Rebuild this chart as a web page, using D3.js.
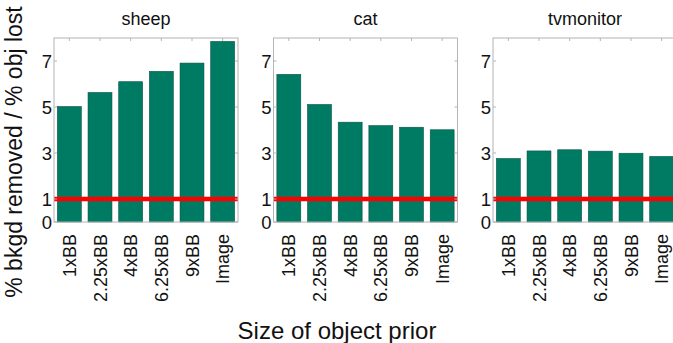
<!DOCTYPE html>
<html><head><meta charset="utf-8">
<script src="https://cdn.jsdelivr.net/npm/d3@7"></script>
<style>body{margin:0;background:#fff;} svg{display:block;font-family:"Liberation Sans",Arial,sans-serif;}</style>
</head><body>
<svg id="c" width="673" height="343"></svg>
<script>
const categories = ["1xBB","2.25xBB","4xBB","6.25xBB","9xBB","Image"];
const panelTitles = ["sheep","cat","tvmonitor"];
const sheepValues = [5.02, 5.63, 6.10, 6.55, 6.91, 7.85];
const catValues = [6.42, 5.11, 4.34, 4.19, 4.12, 4.01];
const tvmonitorValues = [2.76, 3.09, 3.14, 3.08, 2.99, 2.85];
const yTicks = [0, 1, 3, 5, 7];
const yDomain = [0, 8];
const referenceLine = 1;
const yLabel = "% bkgd removed / % obj lost";
const xLabel = "Size of object prior";

(function(){
const series = [sheepValues, catValues, tvmonitorValues];
const svg = d3.select("#c");
const panelLeft = [54, 273.5, 493];
const pw = 184, pTop = 38, pBottom = 222;
const barColor = "#007b63", axisColor = "#b4b4b4";

const y = d3.scaleLinear().domain(yDomain).range([pBottom, pTop]);

series.forEach((vals, i) => {
  const x0 = panelLeft[i];
  const x = d3.scaleBand().domain(categories).range([x0, x0 + pw])
    .paddingInner(0.22).paddingOuter(0.11);
  const g = svg.append("g");
  g.selectAll("rect.bar").data(vals).enter().append("rect")
    .attr("class","bar")
    .attr("x", (d,j) => x(categories[j]))
    .attr("width", x.bandwidth())
    .attr("y", d => y(d))
    .attr("height", d => y(0) - y(d))
    .attr("fill", barColor)
    .attr("stroke", "#0b5446").attr("stroke-width", 0.6);
  g.append("line").attr("x1", x0).attr("x2", x0 + pw)
    .attr("y1", y(referenceLine)).attr("y2", y(referenceLine))
    .attr("stroke", "#ff0000").attr("stroke-width", 4.5);
  g.append("rect").attr("x", x0).attr("y", pTop).attr("width", pw).attr("height", pBottom - pTop)
    .attr("fill","none").attr("stroke", axisColor).attr("stroke-width", 1);
  yTicks.forEach(t => {
    g.append("line").attr("x1", x0).attr("x2", x0 + 3).attr("y1", y(t)).attr("y2", y(t)).attr("stroke", axisColor);
    g.append("line").attr("x1", x0 + pw - 3).attr("x2", x0 + pw).attr("y1", y(t)).attr("y2", y(t)).attr("stroke", axisColor);
  });
  categories.forEach(c => {
    const cx = x(c) + x.bandwidth()/2;
    g.append("line").attr("x1", cx).attr("x2", cx).attr("y1", pTop).attr("y2", pTop + 3).attr("stroke", axisColor);
  });
  g.selectAll("text.yt").data(yTicks).enter().append("text")
    .attr("x", x0 - 2).attr("y", d => y(d)).attr("dy", "0.36em")
    .attr("text-anchor", "end").attr("font-size", 18.5).attr("fill", "#111")
    .text(d => d);
  categories.forEach(c => {
    const cx = x(c) + x.bandwidth()/2;
    g.append("text")
      .attr("transform", `translate(${cx + 6.5},${pBottom + 12}) rotate(-90)`)
      .attr("text-anchor", "end").attr("font-size", 18).attr("fill", "#111")
      .text(c);
  });
  g.append("text").attr("x", x0 + pw/2).attr("y", 25).attr("text-anchor","middle")
    .attr("font-size", 18).attr("fill","#111").text(panelTitles[i]);
});

svg.append("text").attr("transform", "translate(22,152) rotate(-90)")
  .attr("text-anchor","middle").attr("font-size", 23).attr("fill","#111").text(yLabel);
svg.append("text").attr("x", 337).attr("y", 339).attr("text-anchor","middle")
  .attr("font-size", 24).attr("fill","#111").text(xLabel);
})();
</script>
</body></html>
